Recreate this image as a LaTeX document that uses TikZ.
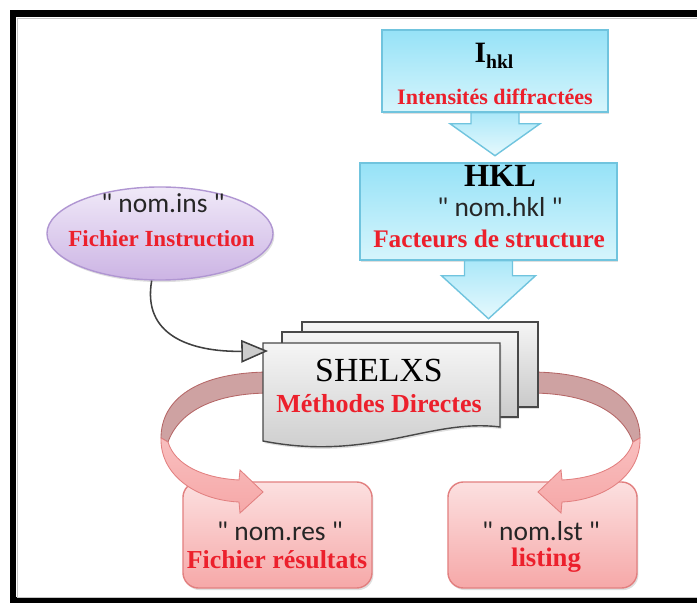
\documentclass[tikz,border=0pt]{standalone}
\usepackage{fontspec}
\setmainfont{Liberation Serif}
\newfontfamily\namefont{Carlito}
\usepackage{tikz}
\usetikzlibrary{positioning,arrows.meta,calc,shapes.geometric,shadows}

\definecolor{txtred}{RGB}{236,32,44}
\definecolor{bluetop}{RGB}{150,226,247}
\definecolor{bluebot}{RGB}{214,245,252}
\definecolor{blueline}{RGB}{112,196,222}
\definecolor{lavtop}{RGB}{240,233,248}
\definecolor{lavbot}{RGB}{204,180,228}
\definecolor{lavline}{RGB}{176,150,210}
\definecolor{pinktop}{RGB}{252,224,224}
\definecolor{pinkbot}{RGB}{246,168,168}
\definecolor{pinkline}{RGB}{226,128,128}
\definecolor{ribback}{RGB}{206,162,162}
\definecolor{docline}{RGB}{72,72,72}

% one red ribbon (right hand one), mirrored for the left
\newcommand{\curvedribbon}{%
  \path[ribbonback] (530,372) .. controls (605,372) and (640,400) .. (640,438)
    -- (633,442) .. controls (622,412) and (588,393) .. (530,393) -- cycle;
  \path[ribbonfront] (640,438) .. controls (641,475) and (605,500) .. (562,502)
    -- (561,513) -- (538,492) -- (561,470) -- (562,480)
    .. controls (598,478) and (626,465) .. (633,442) -- cycle;
}

\begin{document}
\begin{tikzpicture}[x=0.025cm, y=-0.025cm,
  softshadow/.style={drop shadow={opacity=0.25, shadow xshift=1pt, shadow yshift=-1.5pt}},
  bluebox/.style={draw=blueline, line width=1pt, top color=bluetop, bottom color=bluebot, softshadow},
  bluearrow/.style={draw=blueline, line width=1pt, top color=bluetop!80!white, bottom color=bluebot!60!white},
  insoval/.style={ellipse, draw=lavline, line width=1pt, top color=lavtop, bottom color=lavbot,
    minimum width=5.65cm, minimum height=2.325cm, softshadow},
  pinkbox/.style={draw=pinkline, line width=1pt, rounded corners=11pt, top color=pinktop, bottom color=pinkbot,
    minimum width=4.725cm, minimum height=2.65cm, softshadow},
  ribbonback/.style={draw=pinkline!80!black, line width=0.6pt, fill=ribback},
  ribbonfront/.style={draw=pinkline, line width=0.6pt, top color=pinktop!40!pinkbot, bottom color=pinkbot},
  docsheet/.style={draw=docline, line width=1pt, top color=gray!8, bottom color=gray!42, softshadow},
  insline/.style={draw=black!75, line width=1.1pt, -{Triangle[length=19pt, width=16pt, fill=gray!40]}},
  nametxt/.style={anchor=base, font=\namefont\fontsize{19.5}{20}\selectfont, text=black!85},
  redtxt/.style={anchor=base, text=txtred},
]
\useasboundingbox (0,0) rectangle (697,603);

% frame, open on the right
\draw[line width=4.4pt] (705,13.5) -- (13,13.5) -- (13,600.5) -- (705,600.5);
\draw[gray!45, line width=0.7pt] (705,18) -- (17.5,18) -- (17.5,597) -- (705,597);

% boxes
\node[bluebox, minimum width=5.65cm, minimum height=2.05cm] (ihkl) at (495,71) {};
\node[bluebox, minimum width=6.425cm, minimum height=2.425cm] (hkl) at (488.5,211.5) {};
\node[insoval] (ins) at (160,233.5) {};
\node[pinkbox] (res) at (277.5,535) {};
\node[pinkbox] (lst) at (542.5,535) {};

% block arrows
\path[bluearrow] ($(ihkl.south)+(-24,0)$) -- ++(48,0) -- ++(0,11) -- ++(21,0)
  -- ($(ihkl.south)+(0,43)$) -- ++(-45,-32) -- ++(21,0) -- cycle;
\path[bluearrow] ($(hkl.south)+(-24,0)$) -- ++(48,0) -- ++(0,15) -- ++(23,0)
  -- ($(hkl.south)+(0,58)$) -- ++(-47,-43) -- ++(23,0) -- cycle;

% output ribbons
\curvedribbon
\begin{scope}[shift={(801,0)}, xscale=-1]
  \curvedribbon
\end{scope}

% SHELXS stack
\path[docsheet] (302,322) rectangle (538,407);
\path[docsheet] (282,332) rectangle (518,417);
\path[docsheet] (263,343) -- (500,343) -- (500,427)
  .. controls (430,418) and (370,462) .. (263,441) -- cycle;

% texts
\node[anchor=base, font=\fontsize{21}{22}\selectfont\bfseries] (ihkl-sym) at (494,63)
  {I\raisebox{-4pt}{\fontsize{14}{14}\selectfont hkl}};
\node[redtxt, font=\fontsize{15.7}{16}\selectfont\bfseries] (ihkl-txt) at (495,105) {Intensités diffractées};
\node[anchor=base, font=\fontsize{23}{24}\selectfont\bfseries] (hkl-sym) at (500,187) {HKL};
\node[nametxt] (hkl-name) at (500,217) {" nom.hkl "};
\node[redtxt, font=\fontsize{18}{19}\selectfont\bfseries] (hkl-txt) at (489,248) {Facteurs de structure};
\node[nametxt] (ins-name) at (163,213) {" nom.ins "};
\node[redtxt, font=\fontsize{16.4}{17}\selectfont\bfseries] (ins-txt) at (161.5,247) {Fichier Instruction};
\node[anchor=base, font=\fontsize{24}{25}\selectfont] (shelxs) at (379,382) {SHELXS};
\node[redtxt, font=\fontsize{18.5}{19}\selectfont\bfseries] (shelxs-txt) at (379,412) {Méthodes Directes};
\node[nametxt] (res-name) at (280,540) {" nom.res "};
\node[redtxt, font=\fontsize{18.4}{19}\selectfont\bfseries] (res-txt) at (277,568) {Fichier résultats};
\node[nametxt] (lst-name) at (541,540) {" nom.lst "};
\node[redtxt, font=\fontsize{19}{20}\selectfont\bfseries] (lst-txt) at (546,566) {listing};

% instruction file into SHELXS
\coordinate (docin) at (268,351);
\draw[insline] (ins.-100) .. controls (142,335) and (190,352) .. (docin);
\end{tikzpicture}
\end{document}
